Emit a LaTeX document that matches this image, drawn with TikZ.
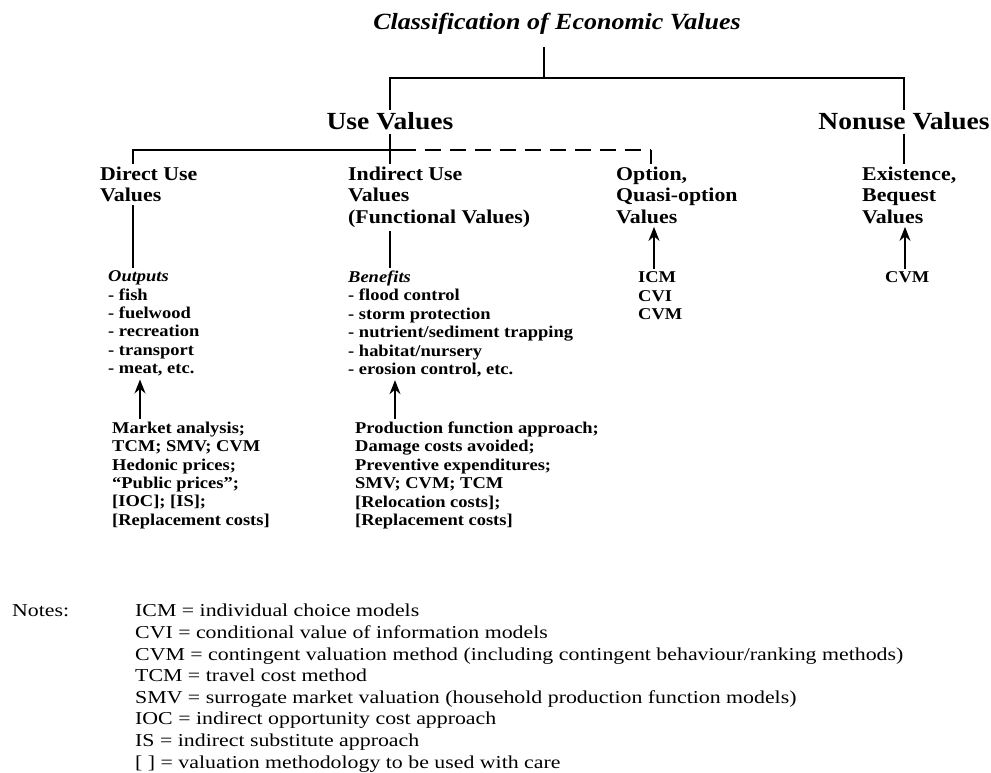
\documentclass[tikz,border=0pt]{standalone}
\usepackage{fontspec}
\setmainfont{Liberation Serif}
\newfontfamily\diagfont[FakeStretch=1.12]{Liberation Serif}
\newfontfamily\notefont[FakeStretch=1.2]{Liberation Serif}
\usetikzlibrary{arrows.meta}

\tikzset{
  branch/.style={font=\diagfont\bfseries\fontsize{24.6}{26}\selectfont, anchor=base, inner sep=3pt},
  heading/.style={font=\diagfont\bfseries\fontsize{19.5}{21.5}\selectfont, align=left, anchor=north west, inner sep=3pt},
  itemlist/.style={font=\diagfont\bfseries\fontsize{16.5}{18.4}\selectfont, align=left, anchor=north west, inner sep=3pt},
  notetext/.style={font=\notefont\fontsize{18.2}{21.6}\selectfont, align=left, anchor=north west, inner sep=0pt},
  link/.style={line width=1.2pt},
  maybe/.style={link, dash pattern=on 16pt off 9pt},
  feeds/.style={link, -{Stealth[length=14pt,width=11pt]}}
}

\begin{document}
\begin{tikzpicture}[x=1pt,y=-1pt]
    \useasboundingbox (0,0) rectangle (991,773);
    \node[branch, font=\diagfont\bfseries\itshape\fontsize{23.2}{25}\selectfont] (title) at (557,30) {Classification of Economic Values};
    \node[branch] (usev) at (390,130) {Use Values};
    \node[branch] (nonusev) at (904,130) {Nonuse Values};
    \node[heading] (direct) at (97,163.7) {Direct Use\\Values};
    \node[heading] (indirect) at (345,163.7) {Indirect Use\\Values\\(Functional Values)};
    \node[heading] (option) at (613,163.7) {Option,\\Quasi-option\\Values};
    \node[heading] (exist) at (859,163.7) {Existence,\\Bequest\\Values};
    \node[itemlist] (outputs) at (105,267.6) {\textit{Outputs}\\- fish\\- fuelwood\\- recreation\\- transport\\- meat, etc.};
    \node[itemlist] (benefits) at (345,267.6) {\textit{Benefits}\\- flood control\\- storm protection\\- nutrient/sediment trapping\\- habitat/nursery\\- erosion control, etc.};
    \node[itemlist] (dmeth) at (109,418.7) {Market analysis;\\TCM; SMV; CVM\\Hedonic prices;\\“Public prices”;\\{[IOC]; [IS];}\\{[Replacement costs]}};
    \node[itemlist] (imeth) at (352,418.7) {Production function approach;\\Damage costs avoided;\\Preventive expenditures;\\SMV; CVM; TCM\\{[Relocation costs];}\\{[Replacement costs]}};
    \node[itemlist] (ometh) at (635,268.8) {ICM\\CVI\\CVM};
    \node[itemlist] (emeth) at (882,268.8) {CVM};
    \node[notetext, anchor=base west] (notes) at (12,616) {Notes:};
    \node[notetext] (legend) at (135,604) {ICM = individual choice models\\CVI = conditional value of information models\\CVM = contingent valuation method (including contingent behaviour/ranking methods)\\TCM = travel cost method\\SMV = surrogate market valuation (household production function models)\\IOC = indirect opportunity cost approach\\IS = indirect substitute approach\\{[ ]} = valuation methodology to be used with care};

    \coordinate (top) at (544,47);
    \coordinate (split) at (544,78);
    \coordinate (lbar) at (133,150);
    \coordinate (mbar) at (400,150);
    \coordinate (rbar) at (651,150);
    \coordinate (da) at (140,0);
    \coordinate (ia) at (395,0);
    \coordinate (oa) at (654,0);
    \coordinate (ea) at (905,0);

    \draw[link] (top) -- (split);
    \draw[link] (usev.north) |- (split) -| (nonusev.north);
    \draw[link] (direct.north -| lbar) -- (lbar) -- (mbar);
    \draw[maybe] (mbar) -- (rbar);
    \draw[link] (rbar) -- (option.north -| rbar);
    \draw[link] (usev.south) -- (indirect.north -| usev.south);
    \draw[link] (nonusev.south) -- (exist.north -| nonusev.south);
    \draw[link] (direct.south -| lbar) -- (outputs.north -| lbar);
    \draw[link] (indirect.south -| usev.south) -- (benefits.north -| usev.south);
    \draw[feeds] (da |- dmeth.north) -- (da |- outputs.south);
    \draw[feeds] (ia |- imeth.north) -- (ia |- benefits.south);
    \draw[feeds] (oa |- ometh.north) -- (oa |- option.south);
    \draw[feeds] (ea |- emeth.north) -- (ea |- exist.south);
\end{tikzpicture}
\end{document}
